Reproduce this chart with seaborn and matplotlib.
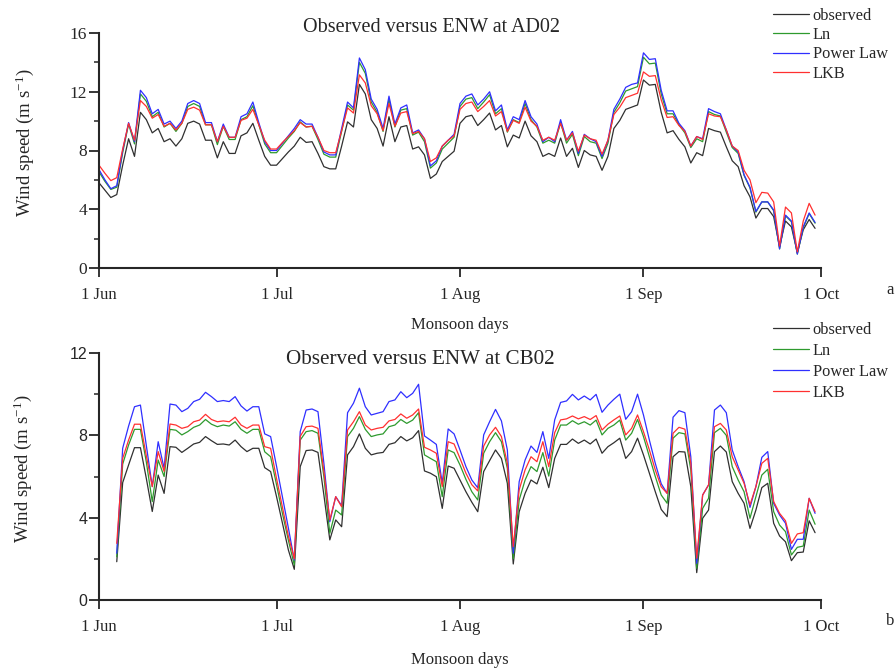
import numpy as np
import pandas as pd
import seaborn as sns
import matplotlib.pyplot as plt
import matplotlib.dates as mdates
from matplotlib.ticker import MultipleLocator

# %% data: daily wind speed, 1 Jun - 30 Sep (122 days)
days = pd.date_range("2013-06-01", periods=122, freq="D")

ad02_obs = [5.8, 5.3, 4.8, 5.0, 7.0, 8.8, 7.6, 10.6, 10.1, 9.2, 9.5, 8.6, 8.8, 8.3, 8.8, 9.85, 10.0, 9.8, 8.7, 8.7,
            7.5, 8.6, 7.8, 7.8, 9.0, 9.2, 9.85, 8.7, 7.6, 7.0, 7.0, 7.45, 7.9, 8.3, 8.9, 8.55, 8.6, 7.8, 6.9, 6.75,
            6.75, 8.3, 9.95, 9.6, 12.5, 11.85, 10.1, 9.5, 8.3, 10.3, 8.6, 9.6, 9.7, 8.1, 8.25, 7.7, 6.1, 6.4, 7.25, 7.6,
            7.95, 9.85, 10.3, 10.4, 9.7, 10.1, 10.55, 9.4, 9.7, 8.25, 9.05, 8.85, 10.0, 9.0, 8.6, 7.6, 7.8, 7.6, 8.85, 7.6,
            8.15, 6.85, 8.0, 7.7, 7.6, 6.65, 7.6, 9.5, 10.05, 10.8, 10.95, 11.1, 12.8, 12.45, 12.5, 10.6, 9.2, 9.35, 8.75, 8.25,
            7.15, 7.85, 7.65, 9.5, 9.35, 9.25, 8.25, 7.3, 6.9, 5.6, 4.85, 3.4, 4.05, 4.05, 3.5, 1.45, 3.2, 2.8, 1.05, 2.6,
            3.3, 2.7]
ad02_ln = [6.55, 5.9, 5.35, 5.5, 7.85, 9.8, 8.45, 11.85, 11.35, 10.3, 10.6, 9.6, 9.85, 9.3, 9.85, 11.0, 11.2, 11.0, 9.75, 9.75,
           8.4, 9.65, 8.75, 8.75, 10.1, 10.3, 11.05, 9.75, 8.45, 7.85, 7.85, 8.35, 8.85, 9.3, 9.95, 9.6, 9.65, 8.75, 7.75, 7.55,
           7.55, 9.3, 11.1, 10.75, 14.0, 13.25, 11.3, 10.6, 9.3, 11.5, 9.6, 10.75, 10.85, 9.05, 9.25, 8.6, 6.8, 7.15, 8.1, 8.5,
           8.9, 11.0, 11.5, 11.6, 10.85, 11.3, 11.8, 10.5, 10.85, 9.25, 10.1, 9.9, 11.2, 10.1, 9.6, 8.5, 8.7, 8.5, 9.9, 8.5,
           9.1, 7.65, 8.95, 8.6, 8.5, 7.45, 8.5, 10.6, 11.25, 12.05, 12.2, 12.35, 14.35, 13.9, 13.95, 11.85, 10.5, 10.5, 9.75, 9.2,
           8.2, 8.8, 8.6, 10.65, 10.45, 10.35, 9.25, 8.2, 7.8, 6.3, 5.45, 3.8, 4.5, 4.5, 3.9, 1.3, 3.55, 3.15, 0.95, 2.75,
           3.7, 3.05]
ad02_pow = [6.7, 6.0, 5.4, 5.6, 8.0, 9.9, 8.6, 12.1, 11.6, 10.5, 10.8, 9.8, 10.0, 9.5, 10.0, 11.2, 11.4, 11.2, 9.9, 9.9,
            8.6, 9.8, 8.9, 8.9, 10.3, 10.5, 11.3, 9.9, 8.6, 8.0, 8.0, 8.5, 9.0, 9.5, 10.1, 9.8, 9.8, 8.9, 7.9, 7.7,
            7.7, 9.5, 11.3, 10.9, 14.3, 13.5, 11.5, 10.8, 9.5, 11.7, 9.8, 10.9, 11.1, 9.2, 9.4, 8.8, 6.95, 7.3, 8.3, 8.7,
            9.1, 11.2, 11.7, 11.85, 11.1, 11.5, 12.0, 10.7, 11.1, 9.4, 10.3, 10.1, 11.4, 10.3, 9.8, 8.6, 8.9, 8.6, 10.1, 8.7,
            9.3, 7.8, 9.1, 8.8, 8.6, 7.6, 8.7, 10.8, 11.5, 12.3, 12.5, 12.6, 14.65, 14.2, 14.25, 12.1, 10.7, 10.7, 9.85, 9.35,
            8.3, 8.95, 8.8, 10.85, 10.65, 10.5, 9.4, 8.3, 7.9, 6.35, 5.5, 3.85, 4.5, 4.5, 3.95, 1.3, 3.6, 3.2, 0.95, 2.8,
            3.75, 3.1]
ad02_lkb = [7.0, 6.45, 5.95, 6.15, 8.1, 9.85, 8.7, 11.4, 11.0, 10.2, 10.45, 9.65, 9.85, 9.4, 9.85, 10.8, 10.95, 10.75, 9.75, 9.75,
            8.6, 9.65, 8.9, 8.9, 10.05, 10.2, 10.8, 9.75, 8.7, 8.1, 8.1, 8.55, 8.95, 9.35, 9.9, 9.6, 9.65, 8.9, 8.0, 7.85,
            7.85, 9.35, 10.9, 10.55, 13.15, 12.6, 11.05, 10.5, 9.35, 11.2, 9.65, 10.55, 10.65, 9.15, 9.3, 8.8, 7.25, 7.5, 8.3, 8.7,
            9.0, 10.8, 11.2, 11.3, 10.65, 11.0, 11.4, 10.35, 10.65, 9.3, 10.05, 9.85, 10.95, 10.0, 9.65, 8.7, 8.9, 8.7, 9.85, 8.7,
            9.2, 7.95, 9.05, 8.8, 8.7, 7.75, 8.7, 10.45, 10.95, 11.6, 11.75, 11.9, 13.35, 13.05, 13.1, 11.45, 10.25, 10.3, 9.7, 9.3,
            8.3, 8.95, 8.75, 10.5, 10.35, 10.3, 9.4, 8.3, 8.0, 6.65, 6.0, 4.45, 5.15, 5.1, 4.5, 1.5, 4.15, 3.75, 1.1, 3.2,
            4.4, 3.6]

nan = np.nan
cb02_obs = [nan, nan, nan, 1.86, 5.7, 6.56, 7.4, 7.4, 5.9, 4.3, 6.07, 5.18, 7.45, 7.42, 7.17, 7.37, 7.58, 7.66, 7.94, 7.74,
            7.56, 7.58, 7.53, 7.77, 7.45, 7.21, 7.37, 7.37, 6.43, 6.24, 5.02, 3.73, 2.43, 1.49, 6.48, 7.26, 7.29, 7.17, 5.1, 2.92,
            3.89, 3.56, 7.05, 7.45, 8.07, 7.37, 7.05, 7.13, 7.17, 7.56, 7.64, 7.94, 7.73, 7.88, 8.23, 6.27, 6.16, 5.99, 4.45, 6.51,
            6.4, 5.83, 5.26, 4.75, 4.29, 6.24, 6.77, 7.29, 6.88, 5.67, 1.75, 4.29, 5.18, 5.83, 5.64, 6.45, 5.46, 6.88, 7.56, 7.56,
            7.82, 7.61, 7.77, 7.58, 7.82, 7.13, 7.45, 7.64, 7.86, 6.88, 7.21, 7.86, 7.05, 6.16, 5.26, 4.4, 4.05, 6.96, 7.21, 7.19,
            5.51, 1.33, 3.97, 4.37, 7.21, 7.48, 7.19, 5.75, 5.18, 4.7, 3.48, 4.37, 5.46, 5.67, 3.73, 3.11, 2.83, 1.91, 2.3, 2.33,
            3.85, 3.27]
cb02_ln = [nan, nan, nan, 2.1, 6.6, 7.53, 8.29, 8.29, 6.7, 4.78, 6.8, 6.0, 8.29, 8.25, 8.02, 8.18, 8.39, 8.5, 8.77, 8.54,
           8.42, 8.5, 8.45, 8.66, 8.29, 8.1, 8.29, 8.29, 7.2, 6.96, 5.6, 4.2, 2.9, 1.7, 7.77, 8.18, 8.23, 8.1, 5.99, 3.24,
           4.37, 4.13, 7.94, 8.34, 8.91, 8.29, 7.94, 8.02, 8.07, 8.42, 8.5, 8.77, 8.58, 8.74, 9.1, 7.05, 6.88, 6.72, 5.02, 7.29,
           7.16, 6.56, 5.86, 5.26, 4.86, 7.13, 7.69, 8.13, 7.69, 6.4, 2.0, 4.86, 5.83, 6.48, 6.24, 7.16, 6.02, 7.77, 8.5, 8.5,
           8.71, 8.54, 8.66, 8.5, 8.74, 8.02, 8.34, 8.5, 8.74, 7.77, 8.1, 8.77, 7.94, 6.96, 6.0, 5.1, 4.7, 7.86, 8.13, 8.07,
           6.32, 1.54, 4.45, 4.94, 8.13, 8.34, 8.0, 6.48, 5.83, 5.26, 3.97, 5.02, 6.07, 6.35, 4.29, 3.64, 3.32, 2.19, 2.56, 2.62,
           4.37, 3.68]
cb02_pow = [nan, nan, nan, 2.27, 7.37, 8.45, 9.39, 9.47, 7.5, 5.51, 7.69, 6.4, 9.52, 9.47, 9.15, 9.31, 9.64, 9.75, 10.09, 9.88,
            9.64, 9.69, 9.64, 9.88, 9.43, 9.18, 9.39, 9.39, 8.07, 7.94, 6.5, 5.0, 3.5, 1.94, 8.18, 9.23, 9.28, 9.15, 6.64, 3.8,
            5.02, 4.58, 9.1, 9.56, 10.29, 9.39, 8.99, 9.07, 9.15, 9.64, 9.72, 10.12, 9.83, 10.04, 10.48, 7.97, 7.77, 7.56, 5.67, 8.31,
            8.07, 7.29, 6.48, 5.83, 5.45, 8.02, 8.66, 9.26, 8.7, 7.29, 2.27, 5.75, 6.8, 7.48, 7.17, 8.18, 6.88, 8.75, 9.6, 9.67,
            9.99, 9.72, 9.91, 9.72, 9.99, 9.12, 9.47, 9.75, 10.0, 8.78, 9.15, 10.0, 8.99, 7.77, 6.64, 5.65, 5.18, 8.88, 9.2, 9.1,
            6.96, 1.78, 5.1, 5.59, 9.23, 9.47, 9.1, 7.29, 6.48, 5.75, 4.5, 5.51, 6.93, 7.21, 4.7, 4.13, 3.73, 2.46, 2.95, 2.95,
            4.94, 4.21]
cb02_lkb = [nan, nan, nan, 2.75, 6.88, 7.77, 8.54, 8.54, 7.0, 5.51, 7.21, 6.25, 8.55, 8.5, 8.34, 8.42, 8.66, 8.74, 9.02, 8.77,
            8.66, 8.7, 8.66, 8.88, 8.5, 8.34, 8.5, 8.5, 7.45, 7.37, 5.9, 4.5, 3.1, 2.0, 7.95, 8.42, 8.45, 8.34, 6.24, 3.89,
            5.02, 4.53, 8.26, 8.66, 9.15, 8.5, 8.26, 8.34, 8.39, 8.7, 8.77, 9.04, 8.83, 8.99, 9.28, 7.42, 7.29, 7.13, 5.51, 7.69,
            7.58, 6.88, 6.16, 5.6, 5.3, 7.48, 8.02, 8.39, 7.94, 6.64, 2.59, 5.35, 6.32, 6.96, 6.72, 7.69, 6.48, 8.13, 8.75, 8.8,
            8.94, 8.8, 8.91, 8.77, 8.96, 8.26, 8.54, 8.75, 8.94, 8.02, 8.34, 8.99, 8.18, 7.29, 6.32, 5.5, 5.18, 8.1, 8.39, 8.3,
            6.64, 2.03, 5.1, 5.59, 8.42, 8.58, 8.26, 6.96, 6.32, 5.67, 4.62, 5.51, 6.64, 6.88, 4.78, 4.21, 3.85, 2.75, 3.21, 3.27,
            4.94, 4.29]

series = ["observed", "Ln", "Power Law", "LKB"]
colors = ["#303030", "#2e9a2e", "#2f2fff", "#ff3030"]

panels = [
    ("AD02", [ad02_obs, ad02_ln, ad02_pow, ad02_lkb], 16, 4, "a"),
    ("CB02", [cb02_obs, cb02_ln, cb02_pow, cb02_lkb], 12, 4, "b"),
]

# %% style
sns.set_style("ticks")
plt.rcParams["font.family"] = ["Liberation Serif", "DejaVu Serif"]
plt.rcParams["mathtext.fontset"] = "custom"
plt.rcParams["mathtext.rm"] = "Liberation Serif"
plt.rcParams["mathtext.it"] = "Liberation Serif:italic"

W, H = 896, 671
fig = plt.figure(figsize=(8.96, 6.71), dpi=100)
ax_boxes = [[99 / W, 1 - 268 / H, 722 / W, 235 / H], [99 / W, 1 - 600 / H, 722 / W, 247 / H]]
title_pos = [(431, 27), (420, 359)]
title_size = [14.5, 15.2]
legend_pos = [(766, 1), (766, 315)]
legend_spacing = [0.21, 0.31]
letter_pos = [(890, 290), (890, 621)]
xlabel_y = [325, 660]
ylabel_pos = [(25, 143), (23, 469)]

for i, (site, vals, ymax, ystep, letter) in enumerate(panels):
    ax = fig.add_axes(ax_boxes[i])
    df = pd.DataFrame({"date": days})
    for name, v in zip(series, vals):
        df[name] = v
    long = df.melt(id_vars="date", var_name="model", value_name="speed")
    sns.lineplot(data=long, x="date", y="speed", hue="model", hue_order=series,
                 palette=colors, linewidth=0.9, ax=ax, legend=True)

    ax.set_xlim(pd.Timestamp("2013-06-01"), pd.Timestamp("2013-10-01"))
    ax.set_ylim(0, ymax)
    ax.xaxis.set_major_locator(mdates.MonthLocator())
    ax.xaxis.set_major_formatter(mdates.DateFormatter("%-d %b"))
    ax.yaxis.set_major_locator(MultipleLocator(ystep))
    ax.yaxis.set_minor_locator(MultipleLocator(ystep / 2))
    ax.tick_params(axis="x", which="major", direction="out", length=6.5, width=1.3,
                   labelsize=12, pad=7)
    ax.tick_params(axis="y", which="major", direction="out", length=7.5, width=1.3,
                   labelsize=12.5, pad=1)
    ax.tick_params(axis="y", which="minor", direction="out", length=3.8, width=1.1)
    if i == 1:
        for t in ax.get_yticklabels():
            t.set_fontfamily("Liberation Sans")
            t.set_fontsize(11.5)
    sns.despine(ax=ax)
    for s in ["left", "bottom"]:
        ax.spines[s].set_linewidth(1.5)
    ax.set_xlabel("")
    ax.set_ylabel("")

    h, l = ax.get_legend_handles_labels()
    ax.get_legend().remove()
    fig.legend(h, l, loc="upper left", bbox_to_anchor=(legend_pos[i][0] / W, 1 - legend_pos[i][1] / H),
               frameon=False, fontsize=11.8, handlelength=2.2, labelspacing=legend_spacing[i],
               handletextpad=0.25, borderaxespad=0)

    fig.text(title_pos[i][0] / W, 1 - title_pos[i][1] / H, "Observed versus ENW at " + site,
             ha="center", va="center", fontsize=title_size[i])
    fig.text(ylabel_pos[i][0] / W, 1 - ylabel_pos[i][1] / H, r"Wind speed (m s$^{-1}$)",
             ha="center", va="center", rotation=90, fontsize=13.5)
    fig.text(460 / W, 1 - xlabel_y[i] / H, "Monsoon days", ha="center", va="center", fontsize=12)
    fig.text(letter_pos[i][0] / W, 1 - letter_pos[i][1] / H, letter, ha="center", va="center", fontsize=12)

fig.savefig("out.png", dpi=100)
